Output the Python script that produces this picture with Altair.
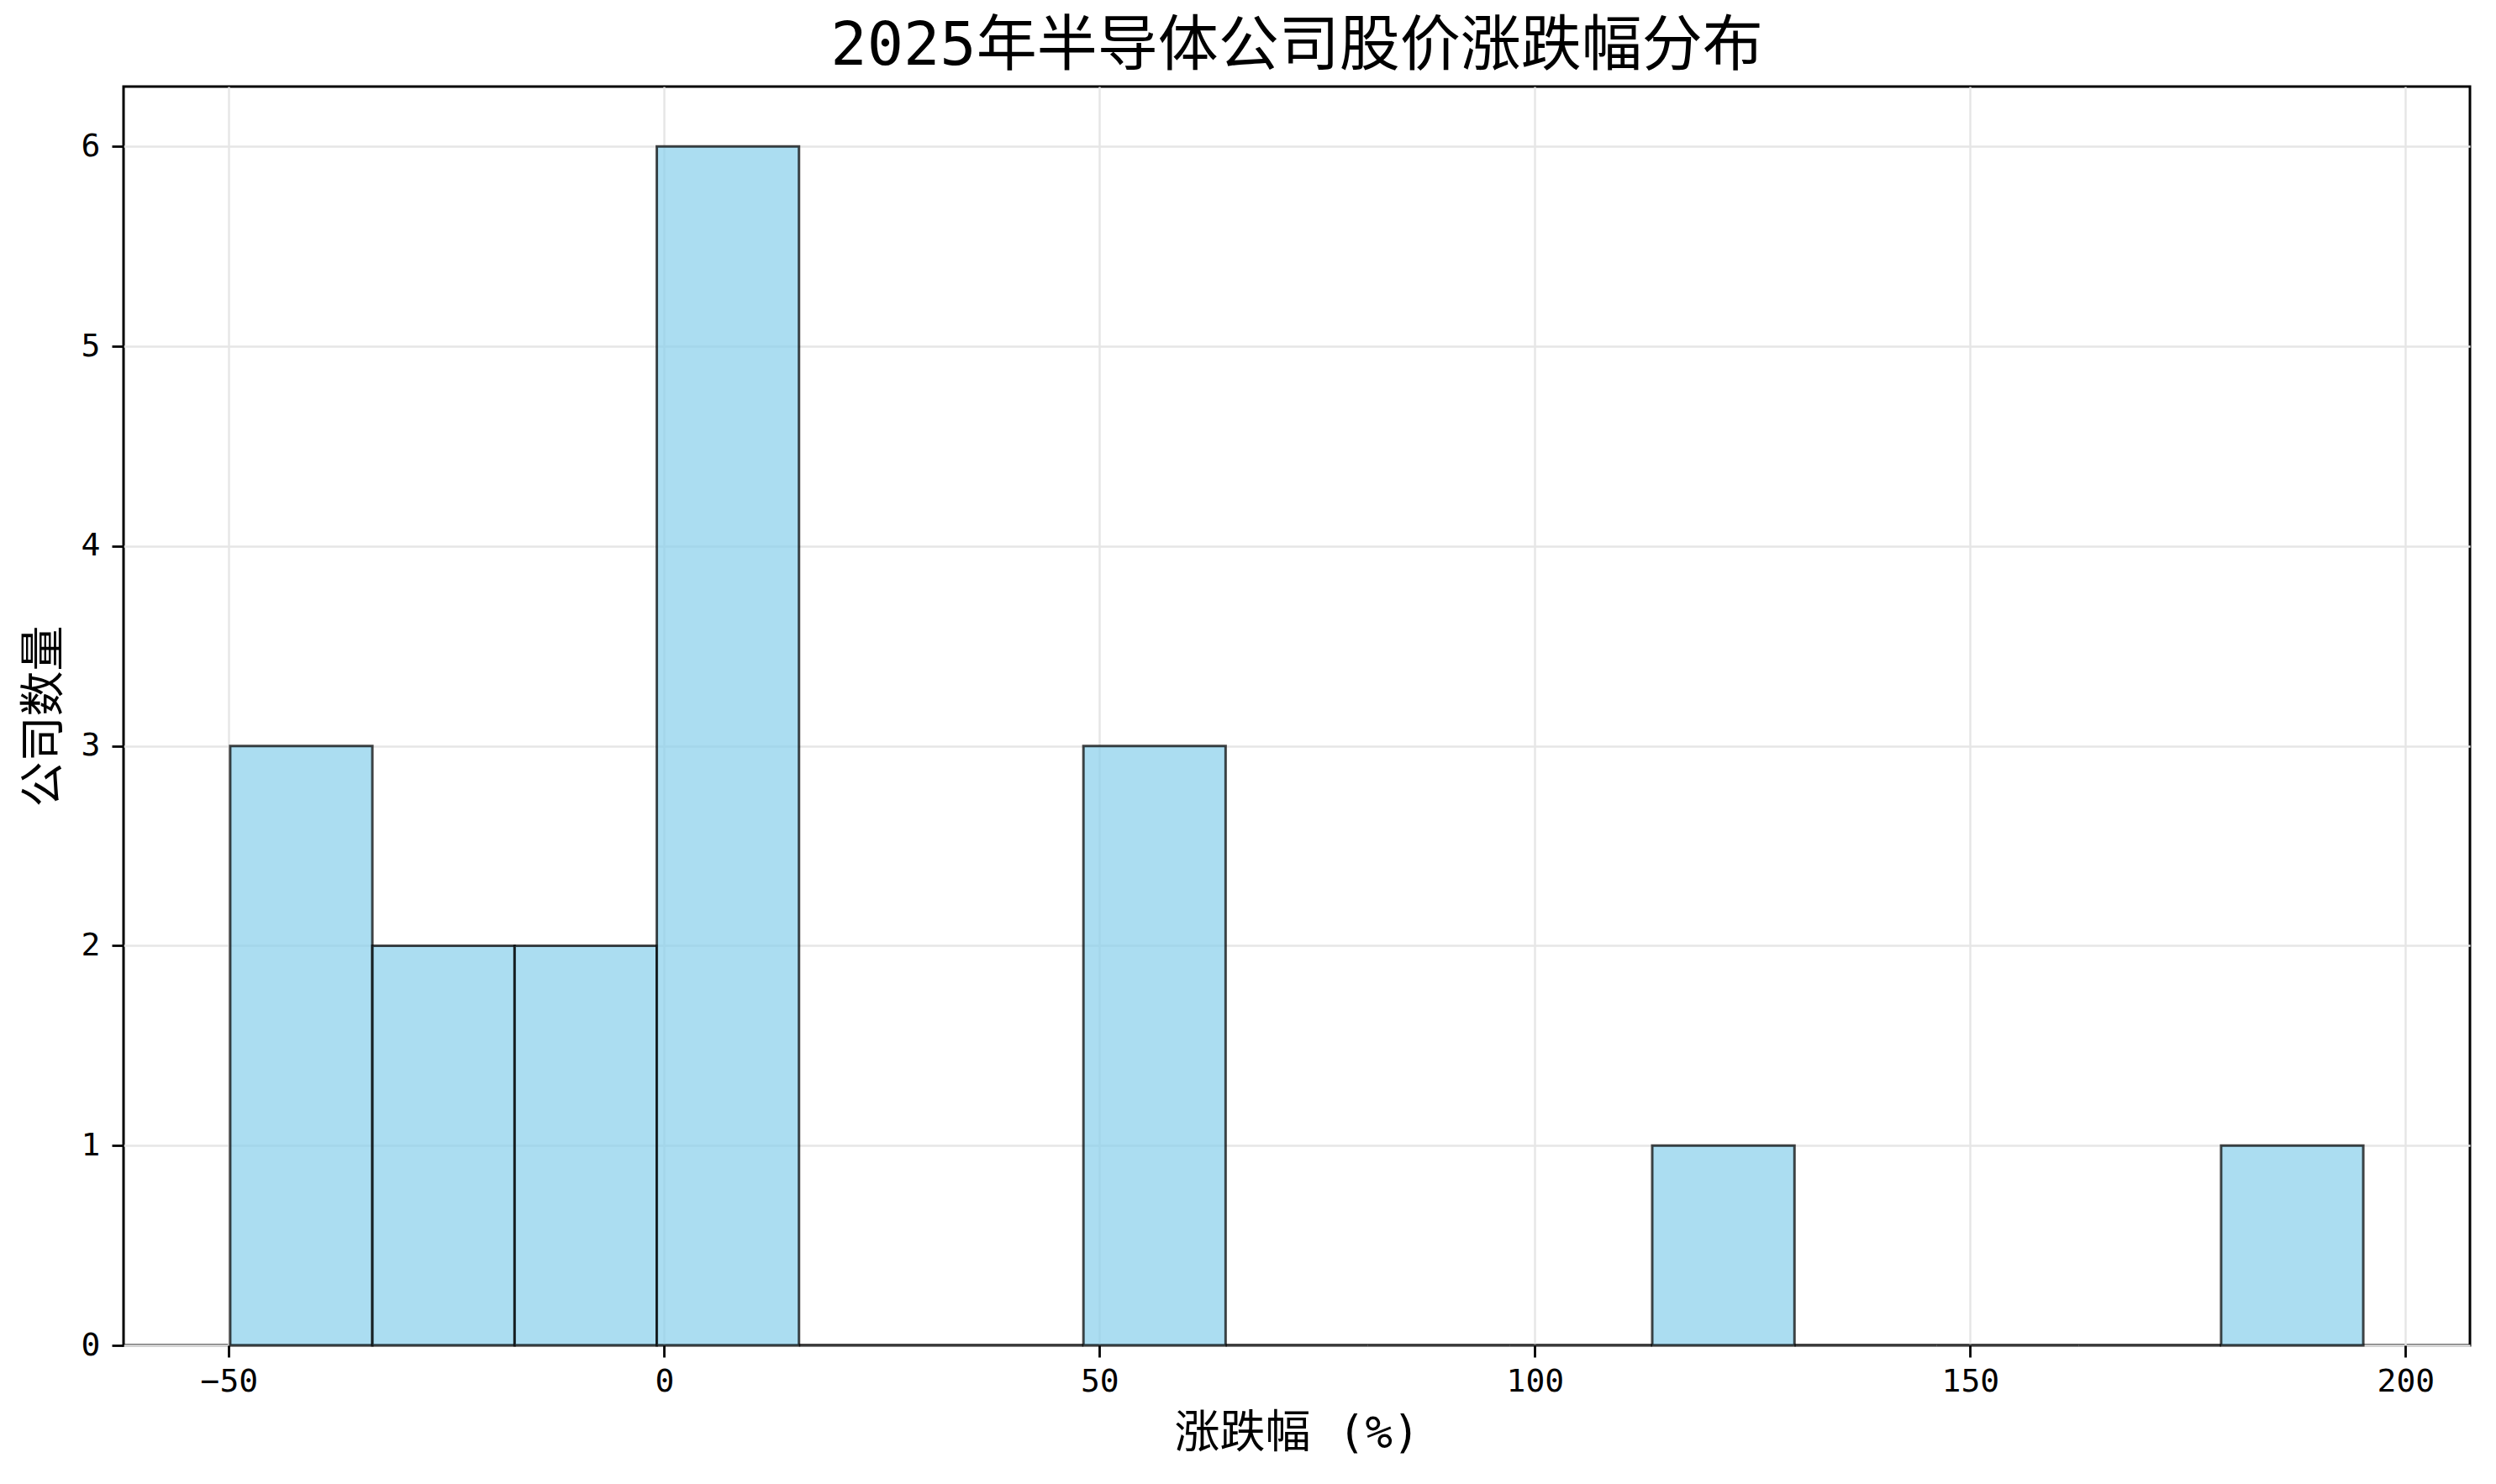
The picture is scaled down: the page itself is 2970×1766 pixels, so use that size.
import altair as alt
import pandas as pd

# Histogram bins and counts per bin
bin_start = [-49.85, -33.52, -17.18, -0.85, 15.48, 31.82, 48.15, 64.48,
             80.82, 97.15, 113.48, 129.82, 146.15, 162.48, 178.82]
bin_end = [-33.52, -17.18, -0.85, 15.48, 31.82, 48.15, 64.48, 80.82,
           97.15, 113.48, 129.82, 146.15, 162.48, 178.82, 195.15]
counts = [3, 2, 2, 6, 0, 0, 3, 0, 0, 0, 1, 0, 0, 0, 1]

x_ticks = [-50, 0, 50, 100, 150, 200]
y_ticks = [0, 1, 2, 3, 4, 5, 6]
x_domain = [-62.1, 207.4]
y_domain = [0, 6.3]

title_text = "2025年半导体公司股价涨跌幅分布"
x_title = "涨跌幅 (%)"
y_title = "公司数量"

df = pd.DataFrame({"start": bin_start, "end": bin_end, "count": counts})

MIX_FONT = "DejaVu Sans Mono, Noto Sans CJK SC"

bars = alt.Chart(df).mark_rect(
    fill="#87CEEB", fillOpacity=0.7,
    stroke="black", strokeOpacity=0.72, strokeWidth=3,
).encode(
    x=alt.X("start:Q",
            scale=alt.Scale(domain=x_domain, nice=False, zero=False),
            axis=alt.Axis(values=x_ticks, title=x_title, format="d",
                          labelFlush=False, labelOverlap=False)),
    x2="end:Q",
    y=alt.Y("count:Q",
            scale=alt.Scale(domain=y_domain, nice=False),
            axis=alt.Axis(values=y_ticks, title=y_title, format="d",
                          labelFlush=False, labelOverlap=False)),
    y2=alt.datum(0),
)

chart = bars.properties(
    width=2792, height=1498,
    title=alt.TitleParams(title_text, font=MIX_FONT, fontSize=72,
                          fontWeight="normal", anchor="middle",
                          baseline="alphabetic", offset=24, dy=70,
                          color="black"),
    autosize=alt.AutoSizeParams(type="none"),
    padding={"left": 139, "top": 95, "right": 20, "bottom": 150},
).configure_view(
    stroke="black", strokeWidth=3,
).configure_axis(
    grid=True, gridColor="#e6e6e6", gridWidth=2.4,
    domain=False,
    tickColor="black", tickWidth=2.8, tickSize=14,
    labelFont="DejaVu Sans Mono", labelFontSize=38, labelColor="black",
    titleFont=MIX_FONT, titleFontSize=54, titleFontWeight="normal",
    titleColor="black",
).configure_axisX(
    labelPadding=10, titlePadding=16,
).configure_axisY(
    labelPadding=14, titlePadding=16,
)

chart.save("out.html", embed_options={"renderer": "svg", "actions": False})
